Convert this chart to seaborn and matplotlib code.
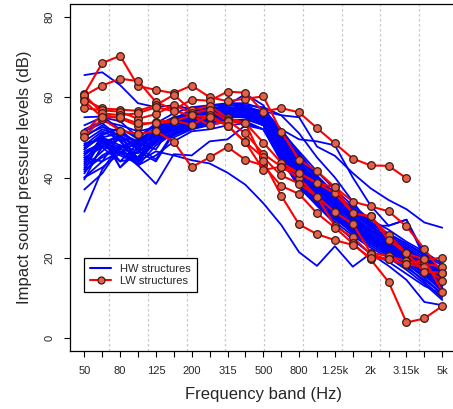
import numpy as np
import pandas as pd
import matplotlib
matplotlib.use("Agg")
import matplotlib.pyplot as plt
import seaborn as sns
from matplotlib.lines import Line2D

# ---------------- data ----------------
bands = ["50", "63", "80", "100", "125", "160", "200", "250", "315", "400", "500",
         "630", "800", "1k", "1.25k", "1.6k", "2k", "2.5k", "3.15k", "4k", "5k"]
tick_labels = ["50", "", "80", "", "125", "", "200", "", "315", "", "500", "",
               "800", "", "1.25k", "", "2k", "", "3.15k", "", "5k"]
y_ticks = [0, 20, 40, 60, 80]
grid_positions = [1.38, 3.545, 5.71, 7.875, 10.04, 12.205, 14.37, 16.535, 18.70]

hw_levels = [
    [65.5, 66.2, 63.0, 58.5, 57.5, 58.0, 57.0, 56.5, 57.0, 56.0, 55.0, 50.0, 44.0, 38.0, 33.0, 29.0, 25.0, 22.5, 20.0, 17.0, 14.0],
    [40.0, 42.5, 46.0, 44.0, 46.5, 45.5, 44.3, 43.5, 41.2, 38.2, 33.6, 28.2, 21.4, 18.0, 22.9, 17.8, 21.1, 19.0, 16.0, 13.0, 11.0],
    [45.0, 44.0, 46.5, 43.0, 38.4, 45.8, 45.5, 49.0, 49.5, 53.0, 52.0, 45.0, 40.0, 35.5, 31.0, 27.0, 24.5, 22.0, 19.5, 16.0, 12.5],
    [48.0, 50.0, 51.0, 49.0, 52.0, 54.0, 55.5, 56.0, 57.0, 57.0, 56.5, 55.5, 55.0, 47.7, 45.4, 41.1, 37.3, 34.4, 32.1, 28.8, 27.5],
    [46.0, 49.0, 50.0, 48.0, 51.0, 53.0, 55.0, 56.0, 56.5, 56.0, 55.5, 52.0, 49.5, 49.0, 48.0, 40.0, 33.0, 28.0, 29.5, 20.0, 15.5],
    [31.5, 42.0, 48.0, 45.0, 50.0, 52.0, 54.0, 55.0, 56.0, 55.5, 54.5, 46.0, 40.5, 36.0, 32.0, 28.5, 25.0, 22.0, 19.0, 16.5, 13.0],
    [55.0, 55.2, 52.0, 48.0, 50.0, 54.0, 56.5, 57.5, 58.5, 58.0, 56.0, 48.0, 42.0, 37.0, 33.0, 29.0, 26.0, 23.0, 21.0, 18.0, 15.0],
    [50.0, 53.0, 49.0, 44.0, 49.0, 52.0, 55.0, 57.0, 58.0, 60.8, 58.0, 50.0, 43.0, 38.0, 34.0, 30.0, 27.0, 24.0, 21.0, 18.5, 14.5],
    [42.0, 49.5, 44.0, 48.5, 47.0, 53.5, 54.0, 55.0, 56.5, 57.5, 55.0, 47.0, 41.0, 36.5, 32.5, 28.0, 25.5, 23.0, 20.5, 17.5, 13.5],
    [44.0, 50.0, 42.5, 47.5, 44.5, 51.5, 53.5, 54.5, 55.5, 56.0, 54.0, 45.5, 39.5, 35.0, 31.0, 27.5, 24.0, 21.5, 19.0, 16.0, 12.0],
    [47.0, 51.0, 52.0, 50.0, 53.0, 55.0, 56.0, 56.5, 57.5, 57.0, 55.5, 49.5, 43.5, 39.0, 35.0, 31.0, 28.0, 25.0, 22.5, 19.5, 16.0],
    [52.0, 54.0, 53.0, 51.5, 52.5, 54.5, 57.0, 58.0, 58.5, 58.5, 57.0, 52.0, 46.0, 40.5, 36.0, 32.0, 28.5, 25.5, 23.0, 20.0, 16.5],
    [43.0, 49.0, 46.5, 45.0, 49.5, 50.5, 52.5, 53.5, 54.5, 54.0, 52.0, 44.0, 38.5, 34.0, 30.5, 26.5, 23.5, 21.0, 18.5, 15.0, 11.0],
    [41.0, 47.5, 49.5, 43.0, 48.0, 51.0, 53.0, 54.0, 55.0, 55.0, 53.0, 45.0, 39.0, 34.5, 30.0, 27.0, 24.5, 22.5, 20.0, 17.0, 13.0],
    [49.0, 52.0, 50.5, 47.0, 51.5, 53.0, 55.5, 56.0, 56.0, 56.5, 55.0, 48.5, 42.5, 38.0, 34.0, 30.0, 26.5, 24.0, 21.5, 18.0, 14.0],
    [46.5, 48.5, 46.0, 49.0, 52.5, 54.0, 54.5, 55.5, 57.0, 56.0, 54.5, 47.5, 41.5, 37.0, 33.5, 29.5, 26.0, 23.5, 21.0, 19.0, 15.5],
    [40.0, 44.0, 50.5, 44.0, 49.0, 51.0, 52.0, 53.5, 55.0, 55.5, 54.0, 46.5, 40.0, 35.5, 31.5, 28.0, 24.5, 21.5, 18.0, 14.0, 10.0],
    [53.0, 55.0, 54.0, 50.0, 53.5, 56.0, 57.5, 58.0, 58.0, 57.5, 56.5, 51.0, 45.0, 39.5, 35.5, 31.5, 28.0, 24.5, 22.0, 19.5, 17.0],
    [45.0, 47.5, 44.0, 45.0, 50.5, 52.5, 53.0, 54.5, 55.5, 55.0, 53.5, 44.5, 37.5, 33.0, 29.0, 25.5, 22.5, 20.0, 17.0, 13.5, 9.5],
    [47.5, 50.0, 48.0, 46.5, 50.0, 52.0, 54.0, 55.0, 56.0, 56.5, 55.5, 50.5, 44.5, 40.0, 36.0, 32.5, 29.0, 26.0, 23.5, 20.5, 17.0],
    [44.5, 48.0, 51.0, 48.5, 51.0, 53.0, 55.0, 56.5, 57.0, 56.5, 55.0, 48.0, 42.0, 37.5, 33.0, 29.0, 25.5, 23.0, 20.5, 17.5, 14.0],
    [39.5, 48.0, 45.5, 43.5, 50.0, 50.0, 52.0, 53.0, 54.0, 54.5, 53.0, 46.0, 40.0, 35.5, 31.5, 28.0, 25.0, 22.5, 20.0, 16.5, 12.5],
    [48.5, 49.5, 47.5, 49.5, 51.5, 53.5, 55.0, 56.0, 56.5, 56.0, 54.5, 49.0, 43.0, 38.5, 34.5, 30.5, 27.0, 24.5, 22.0, 19.0, 15.0],
    [43.5, 50.5, 42.5, 46.5, 44.0, 51.0, 53.0, 54.0, 55.5, 55.0, 54.0, 47.0, 41.0, 36.0, 32.0, 28.5, 25.0, 22.0, 19.5, 16.0, 11.5],
    [50.5, 52.5, 51.5, 48.5, 52.0, 54.5, 56.5, 57.0, 57.5, 57.0, 55.5, 50.0, 44.0, 39.0, 35.0, 31.0, 27.5, 25.0, 22.5, 19.0, 15.5],
    [42.5, 46.5, 50.5, 44.5, 49.5, 52.0, 53.5, 55.0, 55.5, 55.5, 54.0, 46.0, 39.5, 34.5, 30.5, 27.0, 24.0, 21.0, 18.5, 15.5, 12.0],
    [46.0, 48.0, 50.5, 47.5, 50.5, 53.0, 55.0, 57.0, 58.0, 58.0, 57.5, 55.5, 51.0, 45.0, 40.0, 34.0, 28.0, 23.0, 20.0, 17.0, 13.5],
    [41.5, 45.5, 48.0, 45.0, 48.5, 51.5, 53.5, 55.5, 56.0, 56.5, 55.0, 49.5, 44.0, 39.0, 35.0, 31.5, 28.5, 26.0, 23.5, 21.0, 18.0],
    [48.0, 51.5, 49.5, 47.0, 51.0, 53.0, 54.5, 55.0, 55.5, 55.0, 53.5, 45.0, 38.0, 33.5, 29.5, 26.5, 23.5, 21.0, 19.0, 16.5, 13.0],
    [37.0, 41.0, 47.5, 43.0, 45.5, 49.0, 51.5, 52.0, 53.0, 53.5, 52.0, 45.5, 39.0, 34.0, 30.0, 26.0, 23.0, 20.5, 17.5, 14.5, 11.0],
    [45.5, 49.0, 47.0, 46.0, 50.0, 52.5, 54.0, 55.0, 56.0, 55.0, 53.0, 45.0, 38.5, 33.0, 28.5, 24.5, 21.0, 18.0, 14.5, 9.0, 8.2],
    [51.5, 53.5, 50.0, 49.0, 51.5, 53.5, 55.5, 56.5, 57.0, 57.5, 56.0, 51.5, 46.5, 41.5, 37.0, 33.0, 29.5, 27.0, 24.0, 21.5, 18.5],
    [42.0, 45.0, 47.5, 48.0, 49.0, 50.5, 52.5, 54.0, 55.0, 56.0, 55.0, 48.5, 42.5, 37.5, 33.5, 29.5, 26.5, 24.0, 22.0, 19.0, 15.0],
    [47.0, 50.5, 52.5, 49.5, 52.0, 54.0, 56.0, 57.0, 57.5, 57.0, 56.0, 51.0, 45.5, 40.0, 36.0, 32.0, 28.0, 28.0, 29.5, 21.0, 16.0],
]

lw_levels = [
    [60.8, 68.5, 70.3, 62.8, 61.8, 61.0, 62.9, 60.0, 59.0, 59.6, 60.2, 51.4, 44.4, 41.6, 37.6, 34.0, 32.8, 31.6, 27.8, 22.2, 16.3],
    [60.4, 62.9, 64.6, 64.0, 58.8, 56.9, 59.4, 59.1, 61.4, 61.1, 56.4, 57.3, 56.2, 52.3, 48.5, 44.7, 43.0, 42.9, 39.8, np.nan, np.nan],
    [59.4, 57.2, 56.9, 56.6, 58.0, 60.6, 56.7, 57.9, 54.8, 53.6, 48.7, 43.7, 41.1, 38.6, 36.1, 31.1, 30.3, 25.6, 21.1, 19.6, 20.0],
    [57.3, 56.7, 56.4, 54.6, 55.8, 58.0, 56.0, 56.9, 54.2, 51.0, 45.9, 42.7, 39.8, 35.2, 31.4, 28.4, 21.3, 20.4, 19.2, 18.5, 17.8],
    [51.2, 55.7, 54.7, 52.9, 53.9, 54.2, 53.1, 55.5, 52.9, 48.8, 45.0, 40.5, 38.5, 35.2, 27.9, 25.1, 20.9, 19.6, 18.4, 17.8, 14.3],
    [50.2, 54.6, 51.7, 50.9, 51.5, 48.9, 42.6, 45.0, 47.6, 44.4, 43.0, 37.9, 35.9, 31.1, 27.5, 23.6, 19.6, 14.0, 3.9, 4.9, 8.0],
    [60.6, 56.0, 55.5, 56.0, 57.5, 56.5, 55.5, 53.0, 54.0, 53.6, 44.0, 35.5, 28.3, 25.9, 24.4, 23.2, 20.0, 19.6, 18.4, 19.6, 11.6],
    [59.0, 55.0, 55.0, 53.5, 53.5, 54.0, 55.5, 55.0, 52.9, 48.8, 41.9, 42.7, 41.1, 38.6, 37.6, 31.1, 30.3, 24.4, 21.1, 16.5, 16.3],
]

legend_labels = ["HW structures", "LW structures"]


def to_long(levels, group):
    rows = []
    for c, vals in enumerate(levels):
        for b, v in enumerate(vals):
            rows.append({"band": b, "level": v, "curve": f"{group}{c}"})
    return pd.DataFrame(rows)


hw_df = to_long(hw_levels, "HW")
lw_df = to_long(lw_levels, "LW")

# ---------------- style ----------------
sns.set_style("white")
plt.rcParams["font.family"] = ["Liberation Sans", "DejaVu Sans"]

fig = plt.figure(figsize=(4.53, 4.09), dpi=100)
ax = fig.add_axes([70 / 453, 1 - 351 / 409, 386.6 / 453, 347 / 409])

for gx in grid_positions:
    ax.axvline(gx, color="#c8c8c8", lw=0.9, ls=(0, (2, 2)), zorder=0)

blue = "#0000FF"
red = "#FF0000"
mfc = "#E5604A"
mec = "#3A1A12"

sns.lineplot(data=hw_df, x="band", y="level", units="curve", estimator=None,
             sort=False, color=blue, linewidth=1.3, ax=ax, legend=False, zorder=2)
sns.lineplot(data=lw_df, x="band", y="level", units="curve", estimator=None,
             sort=False, color=red, linewidth=1.5, marker="o", markersize=5.5,
             markerfacecolor=mfc, markeredgecolor=mec, markeredgewidth=0.9,
             ax=ax, legend=False, zorder=3)

ax.set_xlim(-0.8, 20.8)
ax.set_ylim(-3.2, 83.2)
ax.set_xticks(range(len(bands)))
ax.set_xticklabels(tick_labels, fontsize=8)
ax.set_yticks(y_ticks)
ax.set_yticklabels([str(v) for v in y_ticks], fontsize=8, rotation=90, va="center")
ax.tick_params(axis="both", which="major", direction="out", length=4, width=0.8,
               color="black", left=True, bottom=True)
ax.tick_params(axis="x", pad=7)
ax.tick_params(axis="y", pad=7)

for s in ax.spines.values():
    s.set_color("black")
    s.set_linewidth(0.9)

ax.set_xlabel("Frequency band (Hz)", fontsize=12, labelpad=8)
ax.set_ylabel("Impact sound pressure levels (dB)", fontsize=12, labelpad=9)

handles = [
    Line2D([], [], color=blue, lw=1.5),
    Line2D([], [], color=red, lw=1.5, marker="o", markersize=5,
           markerfacecolor=mfc, markeredgecolor=mec, markeredgewidth=0.9),
]
leg = ax.legend(handles, legend_labels, loc="upper left",
                bbox_to_anchor=(84 / 453, 1 - 258 / 409), bbox_transform=fig.transFigure,
                fontsize=8, frameon=True, fancybox=False, framealpha=1,
                edgecolor="black", borderpad=0.55, handlelength=1.9,
                handletextpad=0.8, labelspacing=0.2, borderaxespad=0)
leg.get_frame().set_linewidth(0.9)

fig.savefig("out.png", dpi=100)
